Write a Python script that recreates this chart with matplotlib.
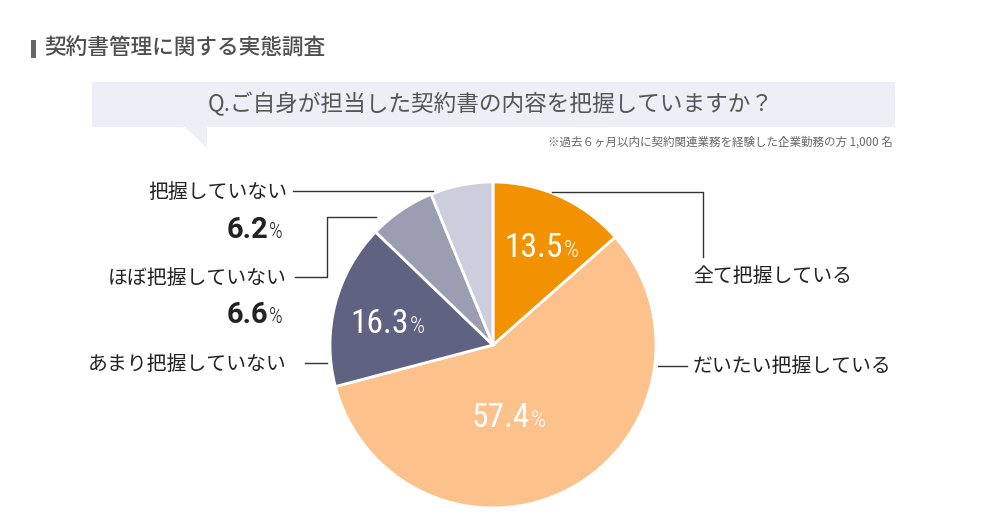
import matplotlib
matplotlib.use("Agg")
import matplotlib.pyplot as plt
from matplotlib.patches import Rectangle, Polygon
from matplotlib import font_manager

# ---- data ----
categories = ["全て把握している", "だいたい把握している", "あまり把握していない",
              "ほぼ把握していない", "把握していない"]
values = [13.5, 57.4, 16.3, 6.6, 6.2]
colors = ["#F39200", "#FDC18C", "#5F6280", "#9B9EB2", "#CDCEDD"]
title = "契約書管理に関する実態調査"
question = "Q.ご自身が担当した契約書の内容を把握していますか？"
note = "※過去６ヶ月以内に契約関連業務を経験した企業勤務の方 1,000 名"

available = {f.name for f in font_manager.fontManager.ttflist}
JP = ["Noto Sans CJK JP", "DejaVu Sans"]
NUM = [n for n in ["Roboto Condensed", "Liberation Sans Narrow", "Open Sans Condensed",
                   "DejaVu Sans Condensed", "Roboto"] if n in available] + ["DejaVu Sans"]
NUMB = ["Roboto", "DejaVu Sans"]
plt.rcParams["font.family"] = JP

fig = plt.figure(figsize=(10, 5.3), dpi=100)
fig.patch.set_facecolor("white")
ax = fig.add_axes([0, 0, 1, 1])

cx, cy, R = 493, 345, 163
# y axis is inverted below: startangle -90 is the top, counterclock=True is visual clockwise
ax.pie(values, colors=colors, startangle=-90, counterclock=True,
       center=(cx, cy), radius=R,
       wedgeprops=dict(edgecolor="white", linewidth=2.0))

ax.set_xlim(0, 1000)
ax.set_ylim(530, 0)
ax.set_aspect("equal")
ax.axis("off")

# ---- header ----
ax.add_patch(Rectangle((31, 40), 5, 18, color="#666666", lw=0))
ax.text(44, 49, title, fontsize=15.6, color="#4f4f4f", ha="left", va="center",
        family=JP, fontweight="medium")

ax.add_patch(Rectangle((92, 82), 803, 45, color="#EEEEF6", lw=0))
ax.add_patch(Polygon([(185, 126.5), (207, 126.5), (207, 148)], closed=True,
                     color="#EEEEF6", lw=0))
ax.text(491, 104, question, fontsize=16.3, color="#555555", ha="center", va="center",
        family=JP)
ax.text(893, 142, note, fontsize=8.3, color="#666666", ha="right", va="center", family=JP)

# ---- number + small % ----
def pct_label(xs, yb, val, size, psize, color, fam, weight="normal"):
    ax.text(xs, yb, f"{val:.1f}", fontsize=size, color=color, ha="right",
            va="baseline", family=fam, fontweight=weight)
    ax.text(xs + 1, yb, "%", fontsize=psize, color=color, ha="left",
            va="baseline", family=NUM, fontweight="light")

pct_label(563, 257, values[0], 24, 17, "white", NUM)
pct_label(409, 333, values[2], 24, 17, "white", NUM)
pct_label(530, 427, values[1], 24, 17, "white", NUM)

# ---- outside labels ----
lc = "#333333"
fs = 14.3
tc = "#222222"
ax.text(287, 192, categories[4], fontsize=fs, color=tc, ha="right", va="center")
ax.plot([293, 433], [191, 191], color=lc, lw=1)
pct_label(268, 238, values[4], 21, 15.5, tc, NUMB, weight="bold")

ax.text(287, 278, categories[3], fontsize=fs, color=tc, ha="right", va="center")
ax.plot([295, 327, 327, 376], [277, 277, 217, 217], color=lc, lw=1)
pct_label(268, 323, values[3], 21, 15.5, tc, NUMB, weight="bold")

ax.text(287, 364, categories[2], fontsize=fs, color=tc, ha="right", va="center")
ax.plot([305, 327], [363, 363], color=lc, lw=1)

ax.text(693, 277, categories[0], fontsize=fs, color=tc, ha="left", va="center")
ax.plot([552, 703, 703], [192, 192, 257], color=lc, lw=1)

ax.text(693, 366, categories[1], fontsize=fs, color=tc, ha="left", va="center")
ax.plot([658, 687], [366, 366], color=lc, lw=1)

fig.savefig("out.png", dpi=100, facecolor="white")
